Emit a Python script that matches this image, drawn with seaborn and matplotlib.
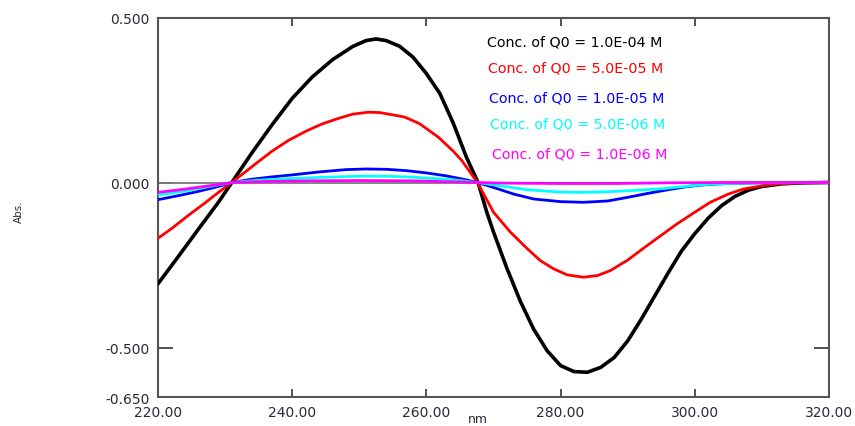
import matplotlib
matplotlib.use("Agg")
import matplotlib.pyplot as plt
import seaborn as sns
import pandas as pd

sns.set_theme(style="white")
plt.rcParams['font.family'] = ['DejaVu Sans']

# ---- data ----
wl_black = [220, 223, 226, 229, 231, 234, 237, 240, 243, 246, 249, 251, 252.5, 254, 256, 258, 260, 262,
            264, 266, 267.7, 269, 270, 272, 274, 276, 278, 280, 282, 284, 286, 288, 290, 292, 294, 296, 298,
            300, 302, 304, 306, 308, 310, 313, 316, 320]
abs_black = [-0.307, -0.225, -0.142, -0.060, 0.000, 0.090, 0.175, 0.255, 0.320, 0.372, 0.412, 0.430, 0.435,
             0.430, 0.413, 0.380, 0.330, 0.270, 0.180, 0.075, 0.000, -0.090, -0.150, -0.260, -0.360, -0.445,
             -0.510, -0.555, -0.573, -0.575, -0.560, -0.530, -0.480, -0.415, -0.345, -0.275, -0.208, -0.155,
             -0.108, -0.070, -0.042, -0.023, -0.012, -0.004, -0.001, 0.000]

wl_red = [220, 222, 224.5, 227, 229, 231, 234.5, 237, 239.4, 242, 244.4, 247, 249, 251.3, 253, 255, 256.8,
          259, 261.8, 264, 265.3, 267.6, 270, 272.5, 275, 277, 279, 281, 283.4, 285.5, 287.4, 290, 292.3,
          295, 297.3, 300, 302.3, 305, 307.2, 310, 312.2, 316, 320]
abs_red = [-0.169, -0.140, -0.100, -0.062, -0.030, 0.000, 0.056, 0.095, 0.127, 0.155, 0.177, 0.195, 0.207,
           0.213, 0.212, 0.205, 0.198, 0.178, 0.137, 0.095, 0.066, 0.000, -0.090, -0.150, -0.200, -0.237,
           -0.262, -0.280, -0.287, -0.282, -0.267, -0.235, -0.200, -0.160, -0.126, -0.090, -0.060, -0.035,
           -0.020, -0.010, -0.005, -0.001, 0.000]

wl_blue = [220, 223, 226, 229, 231, 234, 237, 240, 244, 248, 251, 254, 257, 260, 263, 265.5, 267.6, 270,
           273, 276, 280, 283.4, 287, 290, 293, 296, 299, 302, 305, 310, 320]
abs_blue = [-0.052, -0.040, -0.027, -0.012, 0.000, 0.010, 0.017, 0.023, 0.032, 0.039, 0.041, 0.040, 0.036,
            0.029, 0.020, 0.010, 0.000, -0.015, -0.035, -0.050, -0.058, -0.060, -0.056, -0.045, -0.033,
            -0.022, -0.012, -0.006, -0.003, -0.001, 0.000]

wl_cyan = [220, 224, 228, 231, 235, 240, 245, 250, 254, 258, 262, 265, 267.6, 271, 275, 280, 283.4, 287,
           291, 295, 300, 302.3, 305, 310, 320]
abs_cyan = [-0.038, -0.026, -0.011, 0.000, 0.007, 0.012, 0.016, 0.019, 0.019, 0.016, 0.011, 0.006, 0.000,
            -0.010, -0.022, -0.029, -0.030, -0.028, -0.024, -0.019, -0.009, -0.005, -0.003, -0.001, 0.000]

wl_mag = [220, 224, 228, 231, 236, 242, 250, 258, 264, 267.6, 272, 280, 288, 296, 305, 320]
abs_mag = [-0.030, -0.020, -0.009, 0.000, 0.003, 0.005, 0.006, 0.005, 0.002, 0.000, -0.002, -0.003, -0.003,
           -0.001, 0.000, 0.000]

labels = ["Conc. of Q0 = 1.0E-04 M", "Conc. of Q0 = 5.0E-05 M", "Conc. of Q0 = 1.0E-05 M",
          "Conc. of Q0 = 5.0E-06 M", "Conc. of Q0 = 1.0E-06 M"]
colors = ["#000000", "#ff0000", "#0000ff", "#00ffff", "#ff00ff"]
widths = [2.6, 2.0, 2.0, 2.0, 2.0]

xticks = [220, 240, 260, 280, 300, 320]
yticks = [0.5, 0.0, -0.5, -0.65]

series = [(wl_black, abs_black), (wl_red, abs_red), (wl_blue, abs_blue),
          (wl_cyan, abs_cyan), (wl_mag, abs_mag)]

W, H = 855, 427
fig = plt.figure(figsize=(W / 100, H / 100), dpi=100)
ax = fig.add_axes([158 / W, 1 - 398 / H, (829 - 158) / W, (398 - 18.5) / H])
ax.set_facecolor("white")

ax.axhline(0, color="#7a7a7a", lw=1.3, zorder=1)

for (wl, ab), lab, c, lw in zip(series, labels, colors, widths):
    df = pd.DataFrame({"nm": wl, "Abs": ab})
    sns.lineplot(data=df, x="nm", y="Abs", color=c, lw=lw, ax=ax, zorder=3, legend=False)

ax.set_xlim(220, 320)
ax.set_ylim(-0.65, 0.5)
ax.set_xticks(xticks)
ax.set_xticklabels([f"{v:.2f}" for v in xticks])
ax.set_yticks(yticks)
ax.set_yticklabels([f"{v:.3f}" for v in yticks])
ax.set_xlabel("")
ax.set_ylabel("")

tick_col = "#2a2a3a"
ax.tick_params(axis="x", direction="in", length=6, width=1.2, color="#333333",
               top=True, bottom=True, labelsize=10, labelcolor=tick_col, pad=6)
ax.tick_params(axis="y", direction="in", length=11, width=1.2, color="#333333",
               left=True, right=True, labelsize=10, labelcolor=tick_col, pad=6)
for s in ax.spines.values():
    s.set_color("#555555")
    s.set_linewidth(1.5)

# text labels (legend-like, coloured)
text_pos = [(487, 43), (488, 69), (489, 98), (490, 124), (492, 155)]
for (px, py), lab, c in zip(text_pos, labels, colors):
    fig.text(px / W, 1 - py / H, lab, color=c, fontsize=10.3, ha="left", va="center")

fig.text(19 / W, 1 - 212 / H, "Abs.", rotation=90, fontsize=7.5, color=tick_col, ha="center", va="center")
fig.text(478 / W, 1 - 426.5 / H, "nm", fontsize=9, color=tick_col, ha="center", va="bottom")

fig.savefig("out.png", dpi=100)
